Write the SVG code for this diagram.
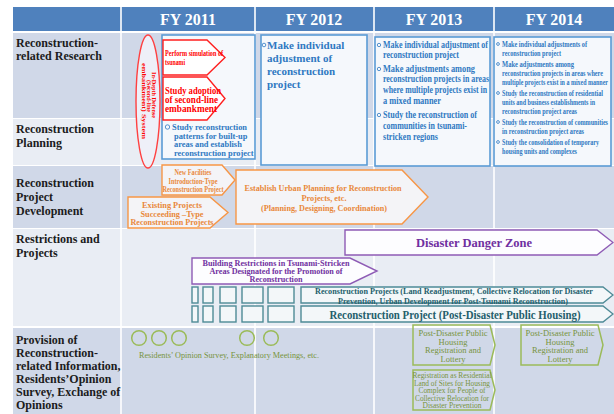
<svg xmlns="http://www.w3.org/2000/svg" width="614" height="414" viewBox="0 0 614 414">
<style>
text{font-family:'Liberation Serif','Times New Roman',serif;font-weight:bold}
.fy{font-size:16px;fill:#fff;text-anchor:middle}
.lbl{font-size:12px;fill:#1c1c1c}
.bx{fill:#f5f8fc;stroke:#5b9bd5;stroke-width:1.6}
.bt{fill:#2f78c2}
.bul{fill:none;stroke:#2f78c2;stroke-width:0.8}
.red{fill:#fff;stroke:#ff1f1f;stroke-width:1.4}
.rt{fill:#ff0000}
.or{fill:#f4f4f7;stroke:#f79646;stroke-width:1.4}
.ot{fill:#e9883a;text-anchor:middle}
.pu{fill:#fdfdff;stroke:#8e5bb5;stroke-width:1.4}
.pt{fill:#7030a0;text-anchor:middle}
.te{fill:#f3f7f9;stroke:#4e8a96;stroke-width:1.4}
.tt{fill:#245f6c;text-anchor:middle}
.sq{fill:#f3f7f9;stroke:#4e8a96;stroke-width:1.4}
.gr{fill:none;stroke:#9bbb59;stroke-width:1.5}
.gt,.gt text{fill:#77933c;font-weight:normal;text-anchor:middle}
</style>
<rect width="614" height="414" fill="#fff"/>
<g id="grid">
<rect x="13" y="7" width="601" height="24" fill="#4f81bd"/>
<rect x="13" y="33" width="601" height="85" fill="#d0d8e8"/>
<rect x="13" y="119" width="601" height="46" fill="#e9edf4"/>
<rect x="13" y="166" width="601" height="62" fill="#d0d8e8"/>
<rect x="13" y="229" width="601" height="97" fill="#e9edf4"/>
<rect x="13" y="328" width="601" height="86" fill="#d0d8e8"/>
<g stroke="#fff" stroke-width="1.6">
<line x1="121" y1="7" x2="121" y2="414"/>
<line x1="255" y1="7" x2="255" y2="414"/>
<line x1="374" y1="7" x2="374" y2="414"/>
<line x1="494" y1="7" x2="494" y2="414"/>
</g>
</g>
<g id="header">
<text class="fy" x="188" y="25">FY 2011</text>
<text class="fy" x="314" y="25">FY 2012</text>
<text class="fy" x="434" y="25">FY 2013</text>
<text class="fy" x="554" y="25">FY 2014</text>
</g>
<g id="row-labels">
<text class="lbl" x="16" y="47">Reconstruction-</text>
<text class="lbl" x="16" y="60">related Research</text>
<text class="lbl" x="16" y="133">Reconstruction</text>
<text class="lbl" x="16" y="147">Planning</text>
<text class="lbl" x="16" y="187">Reconstruction</text>
<text class="lbl" x="16" y="201">Project</text>
<text class="lbl" x="16" y="215">Development</text>
<text class="lbl" x="16" y="243">Restrictions and</text>
<text class="lbl" x="16" y="257">Projects</text>
<text class="lbl" x="16" y="344">Provision of</text>
<text class="lbl" x="16" y="357">Reconstruction-</text>
<text class="lbl" x="16" y="370">related Information,</text>
<text class="lbl" x="16" y="383">Residents’Opinion</text>
<text class="lbl" x="16" y="396">Survey, Exchange of</text>
<text class="lbl" x="16" y="409">Opinions</text>
</g>
<g id="fy2011-box">
<rect class="bx" x="162" y="35" width="93" height="124"/>
<text class="bt" font-size="8.4" x="172" y="130">Study reconstruction</text>
<circle class="bul" cx="167.5" cy="127" r="2.2"/>
<text class="bt" font-size="8.4" x="174" y="138.5">patterns for built-up</text>
<text class="bt" font-size="8.4" x="174" y="147">areas and establish</text>
<text class="bt" font-size="8.4" x="174" y="155.5">reconstruction project</text>
</g>
<g id="in-depth-defense">
<ellipse cx="148" cy="101.5" rx="12" ry="66.5" fill="#eef0f8" stroke="#ff4040" stroke-width="1.4"/>
<g class="rt" font-size="6.5" text-anchor="middle">
<text transform="translate(151.5,95) rotate(90)" textLength="46" lengthAdjust="spacingAndGlyphs">In-Depth Defense</text>
<text transform="translate(146.5,96) rotate(90)" textLength="32" lengthAdjust="spacingAndGlyphs">(Second-line</text>
<text transform="translate(141.8,101) rotate(90)" textLength="76" lengthAdjust="spacingAndGlyphs">embankment) System</text>
</g>
</g>
<g id="simulation">
<path class="red" d="M163,40 H207 L225,57.5 L207,75 H163 Z"/>
<text class="rt" font-size="8" x="165" y="56" textLength="58" lengthAdjust="spacingAndGlyphs">Perform simulation of</text>
<text class="rt" font-size="8" x="165" y="64.5" textLength="20" lengthAdjust="spacingAndGlyphs">tsunami</text>
</g>
<g id="second-line">
<path class="red" d="M163,77 H207 L225,98.5 L207,120 H163 Z"/>
<text class="rt" font-size="10" x="165" y="94" textLength="56" lengthAdjust="spacingAndGlyphs">Study adoption</text>
<text class="rt" font-size="10" x="165" y="103" textLength="53" lengthAdjust="spacingAndGlyphs">of second-line</text>
<text class="rt" font-size="10" x="165" y="112" textLength="52" lengthAdjust="spacingAndGlyphs">embankment</text>
</g>
<g id="fy2012-box">
<rect class="bx" x="261" y="35" width="106" height="130"/>
<circle class="bul" cx="264" cy="45" r="1.8"/>
<g class="bt" font-size="11">
<text x="267" y="49">Make individual</text>
<text x="267" y="62">adjustment of</text>
<text x="267" y="75">reconstruction</text>
<text x="267" y="88">project</text>
</g>
</g>
<g id="fy2013-box">
<rect class="bx" x="375" y="37" width="115" height="129"/>
<g class="bul"><circle cx="379" cy="45" r="1.7"/><circle cx="379" cy="69" r="1.7"/><circle cx="379" cy="115" r="1.7"/></g>
<g class="bt" font-size="9.5">
<text x="383" y="48" textLength="105" lengthAdjust="spacingAndGlyphs">Make individual adjustment of</text>
<text x="383" y="58" textLength="76" lengthAdjust="spacingAndGlyphs">reconstruction project</text>
<text x="383" y="72" textLength="92" lengthAdjust="spacingAndGlyphs">Make adjustments among</text>
<text x="383" y="82" textLength="106" lengthAdjust="spacingAndGlyphs">reconstruction projects in areas</text>
<text x="383" y="93" textLength="104" lengthAdjust="spacingAndGlyphs">where multiple projects exist in</text>
<text x="383" y="104" textLength="58" lengthAdjust="spacingAndGlyphs">a mixed manner</text>
<text x="383" y="118" textLength="94" lengthAdjust="spacingAndGlyphs">Study the reconstruction of</text>
<text x="383" y="129" textLength="84" lengthAdjust="spacingAndGlyphs">communities in tsunami-</text>
<text x="383" y="140" textLength="55" lengthAdjust="spacingAndGlyphs">stricken regions</text>
</g>
</g>
<g id="fy2014-box">
<rect class="bx" x="494" y="37" width="117" height="129"/>
<g class="bul"><circle cx="498" cy="44" r="1.4"/><circle cx="498" cy="64" r="1.4"/><circle cx="498" cy="93" r="1.4"/><circle cx="498" cy="122" r="1.4"/><circle cx="498" cy="142" r="1.4"/></g>
<g class="bt" font-size="7.5">
<text x="502" y="46.5" textLength="85" lengthAdjust="spacingAndGlyphs">Make individual adjustments of</text>
<text x="502" y="55.5" textLength="59" lengthAdjust="spacingAndGlyphs">reconstruction project</text>
<text x="502" y="66.5" textLength="72" lengthAdjust="spacingAndGlyphs">Make adjustments among</text>
<text x="502" y="75.5" textLength="101" lengthAdjust="spacingAndGlyphs">reconstruction projects in areas where</text>
<text x="502" y="84.5" textLength="106" lengthAdjust="spacingAndGlyphs">multiple projects exist in a mixed manner</text>
<text x="502" y="95.5" textLength="101" lengthAdjust="spacingAndGlyphs">Study the reconstruction of residential</text>
<text x="502" y="104.5" textLength="93" lengthAdjust="spacingAndGlyphs">units and business establishments in</text>
<text x="502" y="113.5" textLength="75" lengthAdjust="spacingAndGlyphs">reconstruction project areas</text>
<text x="502" y="124.5" textLength="106" lengthAdjust="spacingAndGlyphs">Study the reconstruction of communities</text>
<text x="502" y="133.5" textLength="82" lengthAdjust="spacingAndGlyphs">in reconstruction project areas</text>
<text x="502" y="144.5" textLength="97" lengthAdjust="spacingAndGlyphs">Study the consolidation of temporary</text>
<text x="502" y="153.5" textLength="75" lengthAdjust="spacingAndGlyphs">housing units and complexes</text>
</g>
</g>
<g id="new-facilities">
<path class="or" d="M162,165 H222 L235,180 L222,195 H162 Z"/>
<g class="ot" font-size="7.5">
<text x="193" y="175" textLength="37" lengthAdjust="spacingAndGlyphs">New Facilities</text>
<text x="193" y="183.5" textLength="49" lengthAdjust="spacingAndGlyphs">Introduction-Type</text>
<text x="193" y="192" textLength="61" lengthAdjust="spacingAndGlyphs">Reconstruction Project</text>
</g>
</g>
<g id="existing-projects">
<path class="or" d="M128,197 H210 L228,212.5 L210,228 H128 Z"/>
<g class="ot" font-size="8.5">
<text x="172" y="208" textLength="60" lengthAdjust="spacingAndGlyphs">Existing  Projects</text>
<text x="172" y="216.5" textLength="63" lengthAdjust="spacingAndGlyphs">Succeeding –Type</text>
<text x="172" y="225" textLength="83" lengthAdjust="spacingAndGlyphs">Reconstruction Projects</text>
</g>
</g>
<g id="urban-planning">
<path class="or" d="M236,170 H402 L428,197 L402,224 H236 Z"/>
<g class="ot" font-size="9">
<text x="323" y="191" textLength="157" lengthAdjust="spacingAndGlyphs">Establish Urban Planning for Reconstruction</text>
<text x="324" y="200.5" textLength="45" lengthAdjust="spacingAndGlyphs">Projects, etc.</text>
<text x="324" y="211" textLength="126" lengthAdjust="spacingAndGlyphs">(Planning, Designing, Coordination)</text>
</g>
</g>
<g id="danger-zone">
<path class="pu" d="M345,230 H597 L613,242.5 L597,255 H345 Z"/>
<text class="pt" font-size="12.5" x="474" y="247">Disaster Danger Zone</text>
</g>
<g id="building-restrictions">
<path class="pu" d="M192,258 H350 L377,271 L350,284 H192 Z"/>
<g class="pt" font-size="7.5">
<text x="276" y="266" textLength="147" lengthAdjust="spacingAndGlyphs">Building Restrictions in Tsunami-Stricken</text>
<text x="276" y="274" textLength="133" lengthAdjust="spacingAndGlyphs">Areas Designated for the Promotion of</text>
<text x="276" y="282" textLength="53" lengthAdjust="spacingAndGlyphs">Reconstruction</text>
</g>
</g>
<g id="land-readjustment">
<rect class="sq" x="192" y="287" width="6" height="16"/>
<rect class="sq" x="203" y="287" width="10" height="16"/>
<rect class="sq" x="220" y="287" width="16" height="16"/>
<rect class="sq" x="242" y="287" width="21" height="16"/>
<rect class="sq" x="268" y="287" width="26" height="16"/>
<path class="te" d="M301,287 H603 L613,295 L603,303 H301 Z"/>
<g class="tt" font-size="7.5">
<text x="454" y="294" textLength="278" lengthAdjust="spacingAndGlyphs">Reconstruction Projects (Land Readjustment, Collective Relocation for Disaster</text>
<text x="453" y="304" textLength="230" lengthAdjust="spacingAndGlyphs">Prevention, Urban Development for Post-Tsunami Reconstruction)</text>
</g>
</g>
<g id="public-housing">
<rect class="sq" x="192" y="306" width="6" height="16"/>
<rect class="sq" x="203" y="306" width="10" height="16"/>
<rect class="sq" x="220" y="306" width="16" height="16"/>
<rect class="sq" x="242" y="306" width="21" height="16"/>
<rect class="sq" x="268" y="306" width="26" height="16"/>
<path class="te" d="M301,306 H603 L613,314 L603,322 H301 Z"/>
<text class="tt" font-size="11.5" x="455" y="318.5" textLength="251" lengthAdjust="spacingAndGlyphs">Reconstruction Project (Post-Disaster Public Housing)</text>
</g>
<g id="opinion-survey">
<circle class="gr" cx="139" cy="338" r="7.3"/>
<circle class="gr" cx="159" cy="338" r="7.3"/>
<circle class="gr" cx="179" cy="338" r="7.3"/>
<circle class="gr" cx="247" cy="338" r="7.3"/>
<circle class="gr" cx="271" cy="338" r="7.3"/>
<text class="gt" font-size="8.5" x="229" y="358" textLength="180" lengthAdjust="spacingAndGlyphs">Residents’ Opinion Survey, Explanatory Meetings, etc.</text>
</g>
<g id="registration-2013">
<path class="gr" d="M413,325 H490 L495,345 L490,365 H413 Z"/>
<g class="gt" font-size="8.5">
<text x="453" y="336">Post-Disaster Public</text>
<text x="453" y="344.5">Housing</text>
<text x="453" y="353">Registration and</text>
<text x="453" y="361.5">Lottery</text>
</g>
</g>
<g id="registration-2014">
<path class="gr" d="M521,325 H598 L603,345 L598,365 H521 Z"/>
<g class="gt" font-size="8.5">
<text x="560" y="336">Post-Disaster Public</text>
<text x="560" y="344.5">Housing</text>
<text x="560" y="353">Registration and</text>
<text x="560" y="361.5">Lottery</text>
</g>
</g>
<g id="collective-relocation">
<path class="gr" d="M413,370 H490 L495,390 L490,410 H413 Z"/>
<g class="gt" font-size="7.5">
<text x="452" y="378" textLength="79" lengthAdjust="spacingAndGlyphs">Registration as Residential</text>
<text x="452" y="385.5" textLength="76" lengthAdjust="spacingAndGlyphs">Land of Sites for Housing</text>
<text x="452" y="393" textLength="67" lengthAdjust="spacingAndGlyphs">Complex for People of</text>
<text x="452" y="400.5" textLength="74" lengthAdjust="spacingAndGlyphs">Collective Relocation for</text>
<text x="452" y="408" textLength="59" lengthAdjust="spacingAndGlyphs">Disaster Prevention</text>
</g>
</g>
<g id="connectors"/>
</svg>
